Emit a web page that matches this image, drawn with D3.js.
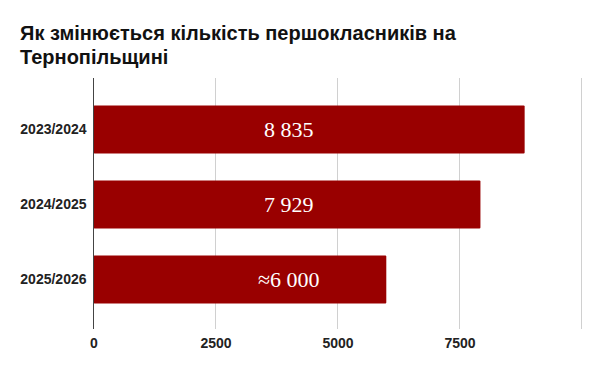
<!DOCTYPE html>
<html>
<head>
<meta charset="utf-8">
<script src="https://cdn.jsdelivr.net/npm/d3@7"></script>
<style>
  body { margin: 0; background: #fff; }
  svg { display: block; }
</style>
</head>
<body>
<div id="chart"></div>
<script>
// data
var years = ["2023/2024", "2024/2025", "2025/2026"];
var pupils = [8835, 7929, 6000];
var valueLabels = ["8 835", "7 929", "≈6 000"];
var xTicks = [0, 2500, 5000, 7500, 10000];
var xTickLabels = ["0", "2500", "5000", "7500", ""];

var W = 600, H = 371;
var margin = { top: 80, right: 18, bottom: 42, left: 93.5 },
  width = W - margin.left - margin.right,
  height = H - margin.top - margin.bottom;

let svg = d3.select("#chart")
  .append("svg")
  .attr("width", W)
  .attr("height", H);

// title
let title = svg.append("text")
  .attr("x", 20)
  .attr("y", 40)
  .style("font-family", "'Liberation Sans', Arial, sans-serif")
  .style("font-weight", "bold")
  .style("font-size", "20px")
  .style("fill", "#111");
title.append("tspan").attr("x", 20).text("Як змінюється кількість першокласників на");
title.append("tspan").attr("x", 20).attr("dy", 23.5).text("Тернопільщині");

let g = svg.append("g")
  .attr("transform", "translate(" + margin.left + "," + margin.top + ")");

let x = d3.scaleLinear().domain([0, 10000]).range([0, 488]);
let y = d3.scaleBand().domain(years).range([0, height]).paddingInner(0.36).paddingOuter(0.34);

// gridlines
g.append("g")
  .selectAll("line")
  .data(xTicks.slice(1))
  .join("line")
  .attr("x1", d => x(d))
  .attr("x2", d => x(d))
  .attr("y1", -2)
  .attr("y2", height)
  .attr("stroke", "#d0d0d0")
  .attr("stroke-width", 1);

// bars
g.append("g")
  .selectAll("rect")
  .data(pupils)
  .join("rect")
  .attr("x", 0)
  .attr("y", (d, i) => y(years[i]))
  .attr("width", d => x(d))
  .attr("height", y.bandwidth())
  .attr("rx", 1)
  .attr("fill", "#990000");

// value labels (placed at a fixed spot across the plot)
var labelAt = 4000;
g.append("g")
  .selectAll("text")
  .data(valueLabels)
  .join("text")
  .attr("x", x(labelAt))
  .attr("y", (d, i) => y(years[i]) + y.bandwidth() / 2)
  .attr("dy", "0.35em")
  .attr("text-anchor", "middle")
  .style("font-family", "'Liberation Serif', 'DejaVu Serif', serif")
  .style("font-size", "22px")
  .style("fill", "#fff")
  .text(d => d);

// y axis
let yAxis = g.append("g")
  .call(d3.axisLeft(y).tickSize(0).tickPadding(7));
yAxis.select(".domain").remove();
yAxis.selectAll("text")
  .style("font-family", "'Liberation Sans', Arial, sans-serif")
  .style("font-weight", "bold")
  .style("font-size", "14px")
  .style("fill", "#222");

g.append("line")
  .attr("x1", 0).attr("x2", 0)
  .attr("y1", -2).attr("y2", height)
  .attr("stroke", "#444")
  .attr("stroke-width", 1);

// x axis
let xAxis = g.append("g")
  .attr("transform", "translate(0," + height + ")")
  .call(d3.axisBottom(x).tickValues(xTicks).tickFormat((d, i) => xTickLabels[i]).tickSize(0).tickPadding(9));
xAxis.select(".domain").remove();
xAxis.selectAll("text")
  .style("font-family", "'Liberation Sans', Arial, sans-serif")
  .style("font-weight", "bold")
  .style("font-size", "14px")
  .style("fill", "#222");
</script>
</body>
</html>
